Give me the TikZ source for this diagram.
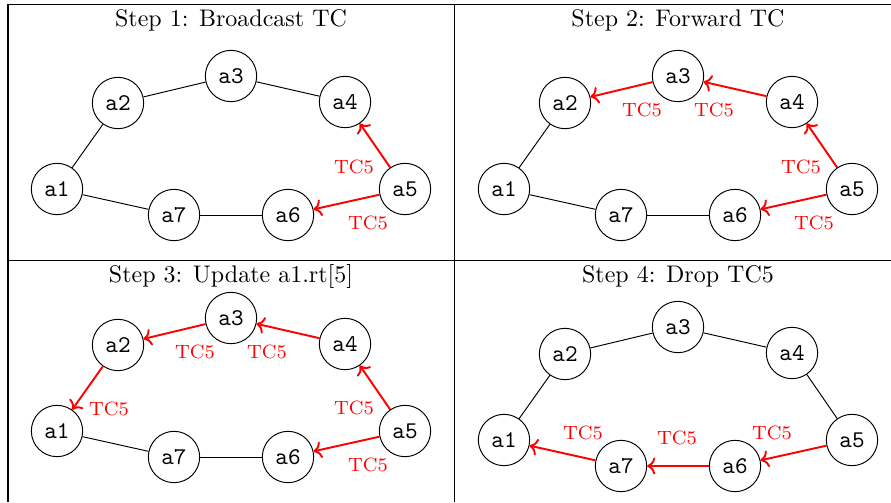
\documentclass[tikz,border=0pt]{standalone}
\usetikzlibrary{arrows.meta}
\begin{document}
\begin{tikzpicture}[x=0.41667pt,y=-0.41667pt,
  agent/.style={circle,draw,line width=0.4pt,minimum size=21.4pt,inner sep=0pt,font=\normalsize\ttfamily},
  plain/.style={line width=0.4pt},
  arr/.style={->,red,thick},
  lab/.style={red,font=\footnotesize,inner sep=0pt},
  ttl/.style={anchor=base,font=\normalsize,inner sep=0pt},
  grid/.style={line width=0.5pt}]
\useasboundingbox (0,0) rectangle (891,502);
% table lines
\coordinate (tl) at (8,4.5);
\coordinate (tr) at (891,4.5);
\coordinate (bl) at (8,502);
\coordinate (mt) at (454.5,4.5);
\coordinate (mb) at (454.5,502);
\coordinate (ml) at (8,260.7);
\coordinate (mr) at (891,260.7);
\draw[grid] (tr) -- (tl) -- (bl);
\draw[grid] (mt) -- (mb);
\draw[grid] (ml) -- (mr);
% titles
\node[ttl] (t1) at (231,26) {Step 1: Broadcast TC};
\node[ttl] (t2) at (678,26) {Step 2: Forward TC};
\node[ttl] (t3) at (231,282.3) {Step 3: Update a1.rt[5]};
\node[ttl] (t4) at (678,282.3) {Step 4: Drop TC5};
\newcommand{\agents}[1]{%
  \node[agent] (#1a1) at (57,189) {a1};
  \node[agent] (#1a2) at (118,103) {a2};
  \node[agent] (#1a3) at (231,76) {a3};
  \node[agent] (#1a4) at (345,102) {a4};
  \node[agent] (#1a5) at (405,189) {a5};
  \node[agent] (#1a6) at (288,215) {a6};
  \node[agent] (#1a7) at (174,215) {a7};}
% Panel 1
\begin{scope}
\agents{p}
\draw[plain] (pa1) -- (pa2);
\draw[plain] (pa2) -- (pa3);
\draw[plain] (pa3) -- (pa4);
\draw[plain] (pa1) -- (pa7);
\draw[plain] (pa7) -- (pa6);
\draw[arr] (pa5) -- (pa4) node[lab] (pl54) at (354,167) {TC5};
\draw[arr] (pa5) -- (pa6) node[lab] (pl56) at (368,223) {TC5};
\end{scope}
% Panel 2
\begin{scope}[shift={(447,0)}]
\agents{q}
\draw[plain] (qa1) -- (qa2);
\draw[plain] (qa1) -- (qa7);
\draw[plain] (qa7) -- (qa6);
\draw[arr] (qa4) -- (qa3) node[lab] (ql43) at (267,110) {TC5};
\draw[arr] (qa3) -- (qa2) node[lab] (ql32) at (195,110) {TC5};
\draw[arr] (qa5) -- (qa4) node[lab] (ql54) at (354,167) {TC5};
\draw[arr] (qa5) -- (qa6) node[lab] (ql56) at (367,223) {TC5};
\end{scope}
% Panel 3
\begin{scope}[shift={(0,242)}]
\agents{r}
\draw[plain] (ra1) -- (ra7);
\draw[plain] (ra7) -- (ra6);
\draw[arr] (ra2) -- (ra1) node[lab] (rl21) at (109,167) {TC5};
\draw[arr] (ra3) -- (ra2) node[lab] (rl32) at (195,110) {TC5};
\draw[arr] (ra4) -- (ra3) node[lab] (rl43) at (267,110) {TC5};
\draw[arr] (ra5) -- (ra4) node[lab] (rl54) at (354,166) {TC5};
\draw[arr] (ra5) -- (ra6) node[lab] (rl56) at (368,223) {TC5};
\end{scope}
% Panel 4
\begin{scope}[shift={(447,251)}]
\agents{s}
\draw[plain] (sa1) -- (sa2);
\draw[plain] (sa2) -- (sa3);
\draw[plain] (sa3) -- (sa4);
\draw[plain] (sa4) -- (sa5);
\draw[arr] (sa5) -- (sa6) node[lab] (sl65) at (325,182) {TC5};
\draw[arr] (sa6) -- (sa7) node[lab] (sl76) at (230,187) {TC5};
\draw[arr] (sa7) -- (sa1) node[lab] (sl71) at (136,182) {TC5};
\end{scope}
\end{tikzpicture}
\end{document}
